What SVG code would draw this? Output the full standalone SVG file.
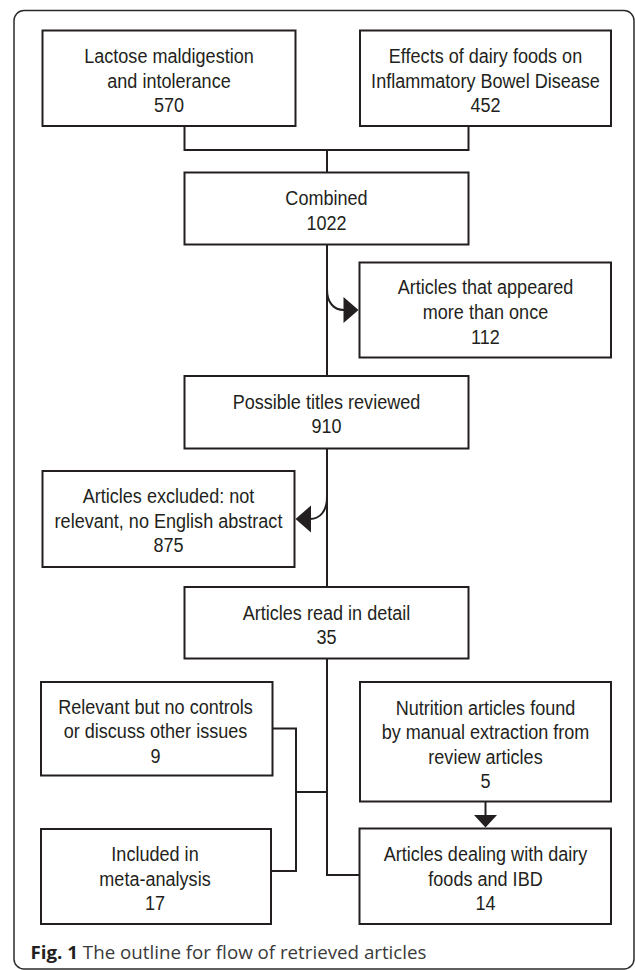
<svg xmlns="http://www.w3.org/2000/svg" width="635" height="970" viewBox="0 0 635 970">
<style>
  .frame { fill: none; stroke: #2b2b2b; stroke-width: 1.5; }
  .box { fill: #ffffff; stroke: #231f20; stroke-width: 2; }
  .lbl { font-family: "Liberation Sans", Arial, sans-serif; font-size: 21px; fill: #231f20; text-anchor: middle; }
  .conn { fill: none; stroke: #231f20; stroke-width: 2; }
  .head { fill: #231f20; stroke: none; }
  .cap { font-family: "Open Sans", "Noto Sans", "Liberation Sans", sans-serif; font-size: 18.5px; fill: #3a3a3a; }
  .capb { font-weight: bold; fill: #231f20; }
</style>
<rect width="635" height="970" fill="#ffffff"/>
<rect class="frame" x="14" y="10.5" width="620" height="958.5" rx="10" ry="10"/>

<g id="connectors">
  <path class="conn" d="M184.5,126 V150 H468.5 V126"/>
  <path class="conn" d="M327,150 V172.5"/>
  <path class="conn" d="M327,244.5 V376"/>
  <path class="conn" d="M327,289 C327,303 334,310 344,310"/>
  <polygon class="head" points="343.5,297 358.5,310 343.5,323"/>
  <path class="conn" d="M327,448 V587"/>
  <path class="conn" d="M327,497 C327,511 320,519 310,519"/>
  <polygon class="head" points="311,505.5 295.5,519 311,532.5"/>
  <path class="conn" d="M327,658.5 V875 H359.5"/>
  <path class="conn" d="M272.5,728.5 H296 V871 H271"/>
  <path class="conn" d="M296,792 H327"/>
  <path class="conn" d="M485.5,801.5 V816"/>
  <polygon class="head" points="474,815 497,815 485.5,827.5"/>
</g>

<g id="n-lactose">
  <rect class="box" x="42.5" y="30.5" width="253" height="95.5"/>
  <text class="lbl" transform="translate(169 0) scale(0.86 1)"><tspan x="0" y="63.5">Lactose maldigestion</tspan><tspan x="0" y="88">and intolerance</tspan><tspan x="0" y="112.5">570</tspan></text>
</g>
<g id="n-effects">
  <rect class="box" x="360" y="30.5" width="251" height="95.5"/>
  <text class="lbl" transform="translate(485.5 0) scale(0.86 1)"><tspan x="0" y="63.5">Effects of dairy foods on</tspan><tspan x="0" y="88">Inflammatory Bowel Disease</tspan><tspan x="0" y="112.5">452</tspan></text>
</g>
<g id="n-combined">
  <rect class="box" x="184.5" y="172.5" width="284" height="72"/>
  <text class="lbl" transform="translate(326.5 0) scale(0.86 1)"><tspan x="0" y="205.5">Combined</tspan><tspan x="0" y="230">1022</tspan></text>
</g>
<g id="n-appeared">
  <rect class="box" x="359.5" y="262.5" width="251.5" height="95"/>
  <text class="lbl" transform="translate(485.5 0) scale(0.86 1)"><tspan x="0" y="294.5">Articles that appeared</tspan><tspan x="0" y="319.5">more than once</tspan><tspan x="0" y="344">112</tspan></text>
</g>
<g id="n-possible">
  <rect class="box" x="184.5" y="376" width="284" height="72.5"/>
  <text class="lbl" transform="translate(326.5 0) scale(0.86 1)"><tspan x="0" y="409">Possible titles reviewed</tspan><tspan x="0" y="433.5">910</tspan></text>
</g>
<g id="n-excluded">
  <rect class="box" x="42.5" y="471" width="252" height="96"/>
  <text class="lbl" transform="translate(168.5 0) scale(0.86 1)"><tspan x="0" y="503.5">Articles excluded: not</tspan><tspan x="0" y="528">relevant, no English abstract</tspan><tspan x="0" y="552.5">875</tspan></text>
</g>
<g id="n-read">
  <rect class="box" x="184.5" y="587" width="284" height="71.5"/>
  <text class="lbl" transform="translate(326.5 0) scale(0.86 1)"><tspan x="0" y="620">Articles read in detail</tspan><tspan x="0" y="644.5">35</tspan></text>
</g>
<g id="n-relevant">
  <rect class="box" x="41" y="682" width="231.5" height="93.5"/>
  <text class="lbl" transform="translate(155.5 0) scale(0.86 1)"><tspan x="0" y="714">Relevant but no controls</tspan><tspan x="0" y="738.5">or discuss other issues</tspan><tspan x="0" y="763">9</tspan></text>
</g>
<g id="n-nutrition">
  <rect class="box" x="360" y="682" width="251" height="119.5"/>
  <text class="lbl" transform="translate(485.5 0) scale(0.86 1)"><tspan x="0" y="715">Nutrition articles found</tspan><tspan x="0" y="739.5">by manual extraction from</tspan><tspan x="0" y="764">review articles</tspan><tspan x="0" y="788.5">5</tspan></text>
</g>
<g id="n-included">
  <rect class="box" x="41" y="829" width="230" height="95"/>
  <text class="lbl" transform="translate(155 0) scale(0.86 1)"><tspan x="0" y="861">Included in</tspan><tspan x="0" y="886">meta-analysis</tspan><tspan x="0" y="910.5">17</tspan></text>
</g>
<g id="n-dealing">
  <rect class="box" x="359.5" y="828.5" width="251.5" height="95.5"/>
  <text class="lbl" transform="translate(485.5 0) scale(0.86 1)"><tspan x="0" y="861">Articles dealing with dairy</tspan><tspan x="0" y="886">foods and IBD</tspan><tspan x="0" y="910.5">14</tspan></text>
</g>

<text class="cap" x="30.5" y="959" textLength="396" lengthAdjust="spacingAndGlyphs"><tspan class="capb">Fig. 1</tspan> The outline for flow of retrieved articles</text>
</svg>
